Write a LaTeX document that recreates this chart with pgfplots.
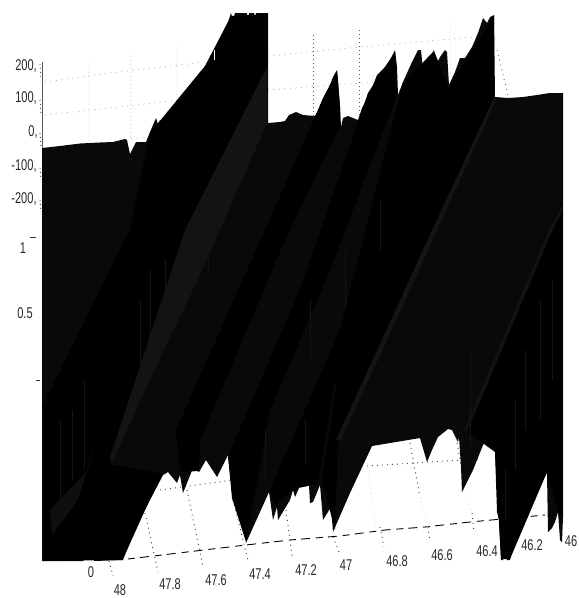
\documentclass[border=0pt]{standalone}
\usepackage{fontspec}
\setmainfont{Liberation Sans}
\usepackage{graphicx}
\usepackage{pgfplots}
\pgfplotsset{compat=1.18}
\newcommand{\lab}[3]{\node[text=black!85,inner sep=0pt] at (axis cs:#1,#2) {\scalebox{0.92}[1.3]{\fontsize{12}{12}\selectfont #3}};}
\pgfplotstableread{
x y
42 148
60 146
80 143.5
100 142.5
113 142
125 139
127 140
130 154
133 148
136 142
146 142
150 132
156 118
158 124
160 120
163 126
167 117
172 112
176 106
178 115
182 108
190 92
200 75
205 66
209 70
213 56
216 58
217 46
218 58
220 40
224 30
228 22
231 13
233 20
235 13
247 13
248 30
249 13
254 13
255 22
256 13
267 13
268 13
268 123
280 122
285 121
289 115
296 112
303 115
315 116
318 110
323 98
330 85
333 77
337 70
338 80
340 107
341 127
343 118
348 116
353 118
358 120
362 108
370 93
377 75
385 67
390 60
395 50
397 67
398 95
403 82
412 62
418 50
421 50
423 70
427 65
430 58
434 50
436 65
440 57
445 50
447 52
449 85
455 72
460 58
465 58
472 47
478 33
483 18
487 23
490 17
494 15
495 97
508 98
523 97
537 95
550 93
563 93
563 517
562 542
560 540
558 512
555 522
552 528
548 532
547 473
537 490
535 500
530 500
528 517
522 523
520 532
515 543
512 550
510 560
507 560
505 548
503 560
501 560
499 520
497 512
495 452
490 438
488 437
483 445
473 470
462 492
461 467
459 437
458 442
452 430
448 429
438 437
432 450
427 462
420 438
372 446
350 493
333 532
331 507
323 520
320 485
313 502
310 503
308 468
295 497
293 490
290 500
278 520
277 507
273 520
269 492
246 543
244 478
233 500
228 455
217 477
206 460
199 472
193 468
183 493
180 475
177 483
168 472
163 475
150 500
133 533
123 560
94 561
93 545
88 558
82 561
42 561
}\silhouette
\begin{document}
\begin{tikzpicture}
\begin{axis}[
  scale only axis, width=579pt, height=598pt,
  xmin=0, xmax=579, ymin=0, ymax=598, y dir=reverse,
  hide axis, clip=false,
  every axis plot/.append style={no markers},
]
\path[use as bounding box] (axis cs:0,0) rectangle (axis cs:579,598);
% back wall grid, drawn behind the surface
\addplot[gray!55,line width=0.9pt,dash pattern=on 1pt off 4.5pt] coordinates {(45,82)(110,73)(205,62)};
\addplot[gray!55,line width=0.9pt,dash pattern=on 1pt off 4.5pt] coordinates {(268,56)(350,48)(472,37)};
\addplot[gray!55,line width=0.9pt,dash pattern=on 1pt off 4.5pt] coordinates {(45,115)(110,108)(180,100)};
\addplot[gray!55,line width=0.9pt,dash pattern=on 1pt off 4.5pt] coordinates {(268,90)(320,86)(375,82)};
\addplot[gray!55,line width=0.9pt,dash pattern=on 1pt off 4.5pt] coordinates {(115,141)(146,137)};
\addplot[gray!20,line width=0.8pt,dash pattern=on 1pt off 3pt] coordinates {(88,60)(88,143)};
\addplot[gray!35,line width=0.8pt,dash pattern=on 1pt off 3pt] coordinates {(130,52)(130,140)};
\addplot[gray!20,line width=0.8pt,dash pattern=on 1pt off 3pt] coordinates {(176,46)(176,106)};
\addplot[black!65,line width=0.9pt,dash pattern=on 1pt off 3pt] coordinates {(313,35)(313,116)};
\addplot[black!65,line width=0.9pt,dash pattern=on 1pt off 3pt] coordinates {(359,30)(359,120)};
\addplot[gray!25,line width=0.8pt,dash pattern=on 1pt off 3pt] coordinates {(450,20)(450,85)};
\addplot[black!55,line width=0.9pt,dash pattern=on 1pt off 4pt] coordinates {(497,50)(508,95)};
% floor grid
\addplot[black!70,line width=0.9pt,dash pattern=on 1pt off 4pt] coordinates {(160,490)(233,480)};
\addplot[black!70,line width=0.9pt,dash pattern=on 1pt off 4pt] coordinates {(367,466)(478,459)};
\addplot[black,line width=0.9pt,dash pattern=on 7pt off 5pt on 9pt off 6pt] coordinates {(128,559)(246,545)(290,540)(340,536)(385,530)(425,527)(470,522)(545,515)};
\addplot[black!75,line width=0.9pt,dash pattern=on 1pt off 4pt] coordinates {(109,561)(113,576)};
\addplot[black!75,line width=0.9pt,dash pattern=on 1pt off 4pt] coordinates {(145,513)(158,572)};
\addplot[black!75,line width=0.9pt,dash pattern=on 1pt off 4pt] coordinates {(187,490)(203,567)};
\addplot[black!75,line width=0.9pt,dash pattern=on 1pt off 4pt] coordinates {(233,500)(248,560)};
\addplot[black!75,line width=0.9pt,dash pattern=on 1pt off 4pt] coordinates {(286,510)(292,556)};
\addplot[black!75,line width=0.9pt,dash pattern=on 1pt off 4pt] coordinates {(333,537)(339,552)};
\addplot[gray!30,line width=0.9pt,dash pattern=on 1pt off 4pt] coordinates {(367,463)(376,527)};
\addplot[black!75,line width=0.9pt,dash pattern=on 1pt off 4pt] coordinates {(380,527)(384,547)};
\addplot[black!75,line width=0.9pt,dash pattern=on 1pt off 4pt] coordinates {(410,443)(420,497)};
\addplot[gray!30,line width=0.9pt,dash pattern=on 1pt off 4pt] coordinates {(420,497)(428,527)};
\addplot[black!75,line width=0.9pt,dash pattern=on 1pt off 4pt] coordinates {(428,527)(430,542)};
\addplot[black!75,line width=0.9pt,dash pattern=on 1pt off 4pt] coordinates {(457,443)(462,470)};
\addplot[gray!30,line width=0.9pt,dash pattern=on 1pt off 4pt] coordinates {(462,490)(472,513)};
\addplot[black!75,line width=0.9pt,dash pattern=on 1pt off 4pt] coordinates {(472,513)(474,533)};
% surface silhouette
\addplot[fill={rgb,255:red,9;green,9;blue,9},draw=none] table {\silhouette};
% black ridges
\addplot[fill=black,draw=none] coordinates {(150,133)(205,66)(228,22)(232,16)(267,14)(267,67)(185,230)(110,457)(96,545)(96,560)(123,559)(150,499)(163,474)(112,465)(96,500)(70,540)(44,559)(44,470)(47,397)(130,230)};
\addplot[fill=black,draw=none] coordinates {(43,400)(110,458)(123,560)(43,561)};
\addplot[fill=black,draw=none] coordinates {(180,472)(176,430)(265,230)(323,99)(337,71)(340,107)(340,126)(285,240)(200,440)(199,471)};
\addplot[fill=black,draw=none] coordinates {(232,498)(228,456)(300,290)(368,93)(395,52)(397,95)(330,270)(270,410)(246,542)};
\addplot[fill=black,draw=none] coordinates {(275,505)(270,490)(340,330)(403,83)(434,51)(448,86)(400,230)(333,390)(318,484)(293,489)};
\addplot[fill=black,draw=none] coordinates {(350,300)(449,86)(494,16)(494,97)(436,228)(338,440)(335,530)(322,480)};
\addplot[fill=black,draw=none] coordinates {(465,430)(550,230)(562,200)(562,516)(558,511)(547,472)(510,559)(501,559)(495,452)};
% lighter bands
\addplot[fill={rgb,255:red,19;green,19;blue,19},draw=none] coordinates {(267,67)(267,123)(200,275)(153,373)(112,463)(110,457)(185,230)};
\addplot[fill={rgb,255:red,15;green,15;blue,15},draw=none] coordinates {(50,510)(88,470)(96,440)(78,500)(52,535)};
\addplot[fill={rgb,255:red,20;green,20;blue,20},draw=none] coordinates {(494,98)(497,98)(436,233)(341,440)(336,440)(433,228)};
\addplot[fill={rgb,255:red,18;green,18;blue,18},draw=none] coordinates {(562,205)(562,212)(552,231)(467,432)(464,430)(549,230)};
% fine streaks
\addplot[unbounded coords=jump,line width=0.5pt,color={rgb,255:red,22;green,22;blue,22}] coordinates {
(60,420)(60,500) (nan,nan) (72,410)(72,480) (nan,nan) (84,380)(84,470) (nan,nan) (140,300)(140,370) (nan,nan)
(150,270)(150,360) (nan,nan) (165,260)(165,330) (nan,nan) (208,200)(208,270) (nan,nan) (235,150)(235,190) (nan,nan)
(255,90)(255,120) (nan,nan) (310,300)(310,360) (nan,nan) (345,250)(345,310) (nan,nan) (380,200)(380,250) (nan,nan)
(305,420)(305,465) (nan,nan) (265,430)(265,480) (nan,nan) (515,400)(515,470) (nan,nan) (525,350)(525,430) (nan,nan)
(540,300)(540,420) (nan,nan) (552,280)(552,380) (nan,nan) (505,470)(505,520) (nan,nan) (470,450)(470,350)};
% white nicks in the ridge tops
\addplot[white,line width=0.8pt] coordinates {(214,50)(214,60)};
\addplot[white,line width=0.8pt] coordinates {(204,58)(203,68)};
% z axis
\addplot[gray!70!black,line width=1pt] coordinates {(42,62)(42,148)};
\addplot[black!70,line width=0.9pt,dash pattern=on 1pt off 3pt] coordinates {(40,64)(41,80)};
\addplot[black!70,line width=0.9pt,dash pattern=on 1pt off 3pt] coordinates {(40,100)(41,114)};
\addplot[black!70,line width=0.9pt,dash pattern=on 1pt off 3pt] coordinates {(40,133)(41,147)};
\addplot[black!70,line width=0.9pt,dash pattern=on 1pt off 3pt] coordinates {(40,168)(41,180)};
\addplot[black!70,line width=0.9pt,dash pattern=on 1pt off 3pt] coordinates {(40,200)(41,212)};
\addplot[black!80,line width=0.9pt] coordinates {(30,237)(36,237)};
\addplot[black!80,line width=0.9pt] coordinates {(36,380)(40,380)};
% labels
\lab{26}{66}{200,}
\lab{26}{98}{100,}
\lab{33}{132}{0,}
\lab{24}{166}{-100,}
\lab{24}{199}{-200,}
\lab{23}{248}{1}
\lab{25}{313}{0.5}
\lab{91}{572}{0}
\lab{120}{590}{48}
\lab{170}{584}{47.8}
\lab{216}{580}{47.6}
\lab{260}{574}{47.4}
\lab{306}{570}{47.2}
\lab{346}{565}{47}
\lab{397}{561}{46.8}
\lab{442}{555}{46.6}
\lab{487}{551}{46.4}
\lab{532}{545}{46.2}
\lab{571}{541}{46}
\end{axis}
\end{tikzpicture}
\end{document}
